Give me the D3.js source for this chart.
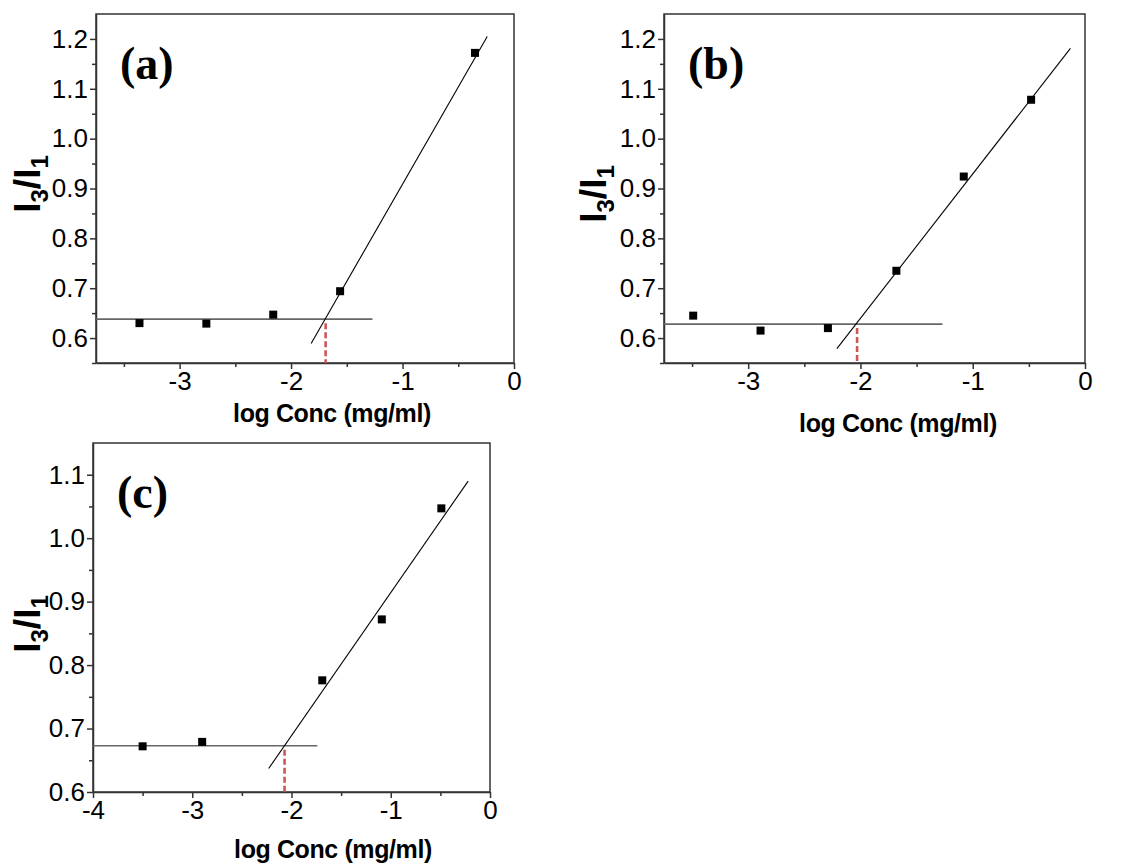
<!DOCTYPE html>
<html lang="en">
<head>
  <meta charset="UTF-8">
  <title>I3/I1 vs log Conc</title>
  <script src="https://d3js.org/d3.v7.min.js"></script>
  <style>
    * { margin: 0; padding: 0; box-sizing: border-box; }
    body { width: 1134px; height: 865px; background: #fff; font-family: "Liberation Sans", Arial, sans-serif; }
    .tick text { font-family: "Liberation Sans", Arial, sans-serif; font-size: 26px; fill: #000; }
    .axis path, .axis line { stroke: #333; stroke-width: 1.5; }
  </style>
</head>
<body>
  <div id="chart"></div>

  <script>
    // Panel (a)
    const xA = [-3.36, -2.76, -2.16, -1.56, -0.35];
    const yA = [0.630, 0.629, 0.647, 0.694, 1.172];
    // Panel (b)
    const xB = [-3.49, -2.89, -2.29, -1.68, -1.08, -0.48];
    const yB = [0.645, 0.615, 0.620, 0.735, 0.924, 1.078];
    // Panel (c)
    const xC = [-3.50, -2.90, -1.69, -1.09, -0.49];
    const yC = [0.672, 0.679, 0.776, 0.872, 1.047];

    // plateau level, end of plateau line, fitted line ends, CMC point
    const baseA = 0.638, baseEndA = -1.27, fitA = [[-1.82, 0.589], [-0.24, 1.205]], cmcA = -1.69;
    const baseB = 0.628, baseEndB = -1.27, fitB = [[-2.21, 0.579], [-0.13, 1.181]], cmcB = -2.03;
    const baseC = 0.673, baseEndC = -1.74, fitC = [[-2.23, 0.637], [-0.22, 1.090]], cmcC = -2.07;

    const xTicksAB = [-3, -2, -1, 0];
    const xTicksC = [-4, -3, -2, -1, 0];
    const yTicksAB = [0.6, 0.7, 0.8, 0.9, 1.0, 1.1, 1.2];
    const yTicksC = [0.6, 0.7, 0.8, 0.9, 1.0, 1.1];

    const svg = d3.select('#chart')
      .append('svg')
      .attr('width', 1134)
      .attr('height', 865);

    // plain hyphen for negatives, like the original
    const fmtX = d => String(d);
    const fmtY = d => d.toFixed(1);

    function panel(p) {
      const x = d3.scaleLinear().domain(p.xDomain).range([p.left, p.right]);
      const y = d3.scaleLinear().domain(p.yDomain).range([p.bottom, p.top]);
      const g = svg.append('g');

      // minor ticks
      g.append('g').attr('class', 'axis')
        .attr('transform', `translate(0,${p.bottom})`)
        .call(d3.axisBottom(x).tickValues(p.xMinor).tickSize(4).tickFormat(''))
        .select('.domain').remove();
      g.append('g').attr('class', 'axis')
        .attr('transform', `translate(${p.left},0)`)
        .call(d3.axisLeft(y).tickValues(p.yMinor).tickSize(4).tickFormat(''))
        .select('.domain').remove();

      // major ticks
      g.append('g').attr('class', 'axis')
        .attr('transform', `translate(0,${p.bottom})`)
        .call(d3.axisBottom(x).tickValues(p.xTicks).tickSize(6).tickPadding(3).tickSizeOuter(0)
          .tickFormat(fmtX));
      g.append('g').attr('class', 'axis')
        .attr('transform', `translate(${p.left},0)`)
        .call(d3.axisLeft(y).tickValues(p.yTicks).tickSize(6).tickPadding(2).tickSizeOuter(0)
          .tickFormat(fmtY));

      // frame
      g.append('rect')
        .attr('x', p.left).attr('y', p.top)
        .attr('width', p.right - p.left).attr('height', p.bottom - p.top)
        .attr('fill', 'none').attr('stroke', '#333').attr('stroke-width', 1.5);

      // plateau line
      g.append('line')
        .attr('x1', x(p.xDomain[0])).attr('x2', x(p.baseEnd))
        .attr('y1', y(p.base)).attr('y2', y(p.base))
        .attr('stroke', '#666').attr('stroke-width', 1.6);

      // fitted line
      g.append('line')
        .attr('x1', x(p.fit[0][0])).attr('y1', y(p.fit[0][1]))
        .attr('x2', x(p.fit[1][0])).attr('y2', y(p.fit[1][1]))
        .attr('stroke', '#000').attr('stroke-width', 1.1);

      // CMC marker
      g.append('line')
        .attr('x1', x(p.cmc)).attr('x2', x(p.cmc))
        .attr('y1', y(p.base) + 4).attr('y2', p.bottom)
        .attr('stroke', '#cf5555').attr('stroke-width', 2.6)
        .attr('stroke-dasharray', '6,3');

      // points
      g.selectAll('rect.pt')
        .data(p.xs.map((v, i) => [v, p.ys[i]]))
        .enter()
        .append('rect')
        .attr('class', 'pt')
        .attr('x', d => x(d[0]) - 4)
        .attr('y', d => y(d[1]) - 4)
        .attr('width', 8).attr('height', 8)
        .attr('fill', '#000');

      // panel letter
      g.append('text')
        .attr('x', p.left + 24).attr('y', p.top + 65)
        .attr('font-family', '"Liberation Serif", "Times New Roman", serif')
        .attr('font-weight', 'bold').attr('font-size', 46)
        .text(p.letter);

      // x title
      g.append('text')
        .attr('x', p.xLabelX).attr('y', p.xLabelY)
        .attr('text-anchor', 'middle')
        .attr('font-weight', 'bold').attr('font-size', 25)
        .attr('letter-spacing', -0.4)
        .text('log Conc (mg/ml)');

      // y title
      const yt = g.append('text')
        .attr('transform', `translate(${p.yLabelX},${p.yLabelY}) rotate(-90)`)
        .attr('text-anchor', 'middle')
        .attr('font-weight', 'bold').attr('font-size', 37);
      yt.append('tspan').text('I');
      yt.append('tspan').attr('dy', 8).attr('font-size', 24).text('3');
      yt.append('tspan').attr('dy', -8).text('/I');
      yt.append('tspan').attr('dy', 8).attr('font-size', 24).text('1');
    }

    panel({
      xs: xA, ys: yA, base: baseA, baseEnd: baseEndA, fit: fitA, cmc: cmcA, letter: '(a)',
      left: 96, right: 514, top: 14, bottom: 363,
      xDomain: [-3.75, 0], yDomain: [0.55, 1.25],
      xTicks: xTicksAB, yTicks: yTicksAB,
      xMinor: [-3.5, -2.5, -1.5, -0.5], yMinor: [0.55, 0.65, 0.75, 0.85, 0.95, 1.05, 1.15],
      xLabelX: 332, xLabelY: 422, yLabelX: 40, yLabelY: 184
    });
    panel({
      xs: xB, ys: yB, base: baseB, baseEnd: baseEndB, fit: fitB, cmc: cmcB, letter: '(b)',
      left: 664, right: 1085, top: 14, bottom: 363,
      xDomain: [-3.75, 0], yDomain: [0.55, 1.25],
      xTicks: xTicksAB, yTicks: yTicksAB,
      xMinor: [-3.5, -2.5, -1.5, -0.5], yMinor: [0.55, 0.65, 0.75, 0.85, 0.95, 1.05, 1.15],
      xLabelX: 898, xLabelY: 432, yLabelX: 606, yLabelY: 194
    });
    panel({
      xs: xC, ys: yC, base: baseC, baseEnd: baseEndC, fit: fitC, cmc: cmcC, letter: '(c)',
      left: 93, right: 490, top: 443, bottom: 792,
      xDomain: [-4, 0], yDomain: [0.6, 1.15],
      xTicks: xTicksC, yTicks: yTicksC,
      xMinor: [-3.5, -2.5, -1.5, -0.5], yMinor: [0.65, 0.75, 0.85, 0.95, 1.05],
      xLabelX: 333, xLabelY: 858, yLabelX: 40, yLabelY: 624
    });
  </script>
</body>
</html>
